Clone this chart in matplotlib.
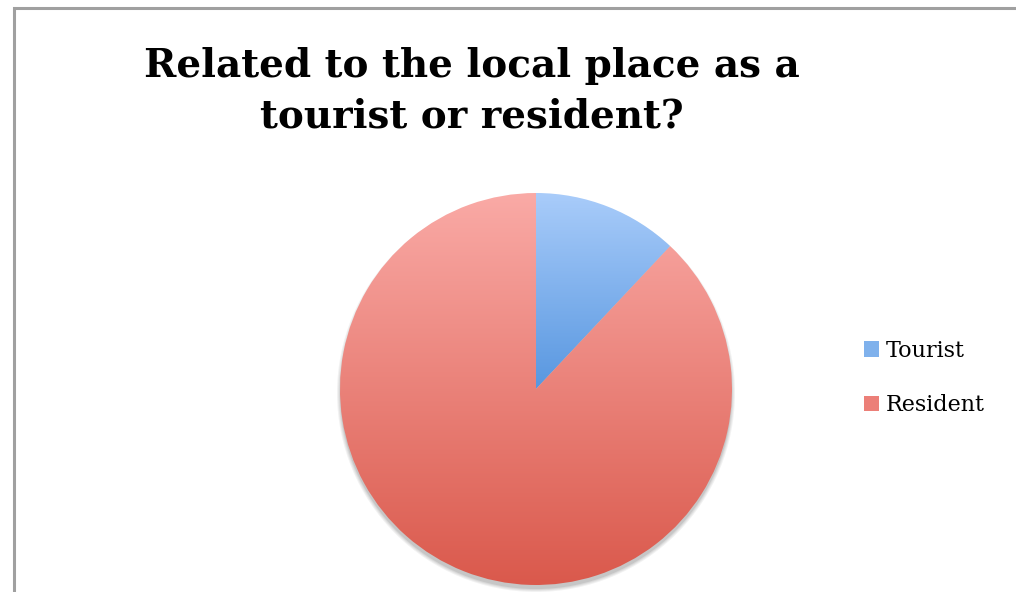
import numpy as np
import matplotlib
matplotlib.use("Agg")
import matplotlib.pyplot as plt
from matplotlib.colors import LinearSegmentedColormap
from matplotlib.patches import Circle, Rectangle

# survey answers (percent)
labels = ["Tourist", "Resident"]
values = [12, 88]
top_colors = ["#a9ccfa", "#faaaa6"]
bottom_colors = ["#5897e0", "#da594c"]
title_lines = ["Related to the local place as a", "tourist or resident?"]

W, H = 1016, 592
fig = plt.figure(figsize=(W / 100, H / 100), dpi=100)
ax = fig.add_axes([0, 0, 1, 1])

# chart area frame (runs off the right and bottom edges)
ax.add_patch(Rectangle((13.5, -10), W + 20, H - 7.5 + 10, fill=False,
                       edgecolor="#a0a0a0", lw=2.2, zorder=0))

cx, cy, r = 536, H - 389, 196

# soft drop shadow under the pie
for i, a in enumerate([0.05, 0.05, 0.06, 0.08]):
    ax.add_patch(Circle((cx, cy - 4), r + 3 - i, color="black", alpha=a,
                        lw=0, zorder=1))

wedges, _ = ax.pie(values, center=(cx, cy), radius=r, startangle=90,
                   counterclock=False, frame=True,
                   wedgeprops=dict(facecolor="none", edgecolor="none"))
ax.set_xlim(0, W)
ax.set_ylim(0, H)
ax.set_aspect("equal")
ax.axis("off")

# vertical gradient fill clipped to each wedge
for w, c0, c1 in zip(wedges, top_colors, bottom_colors):
    w.set_zorder(2)
    bb = w.get_path().get_extents(w.get_patch_transform())
    cmap = LinearSegmentedColormap.from_list("g", [c1, c0])
    grad = np.linspace(0, 1, 256).reshape(-1, 1)
    im = ax.imshow(grad, cmap=cmap, origin="lower", aspect="auto",
                   extent=(bb.x0, bb.x1, bb.y0, bb.y1), zorder=2,
                   interpolation="bilinear")
    im.set_clip_path(w)

for i, line in enumerate(title_lines):
    ax.text(472, H - 77 - 50 * i, line, ha="center", va="baseline",
            fontsize=28, fontweight="bold", family="DejaVu Serif")

# legend
handles = [Rectangle((0, 0), 1, 1, facecolor=c) for c in ["#7fb1ec", "#ec7f78"]]
ax.legend(handles, labels, loc="center left", bbox_to_anchor=(855 / W, 1 - 378 / H),
          frameon=False, prop=dict(family="DejaVu Serif", size=16),
          handlelength=0.7, handleheight=0.7, handletextpad=0.3,
          labelspacing=1.45, borderaxespad=0)

fig.savefig("out.png", dpi=100)
